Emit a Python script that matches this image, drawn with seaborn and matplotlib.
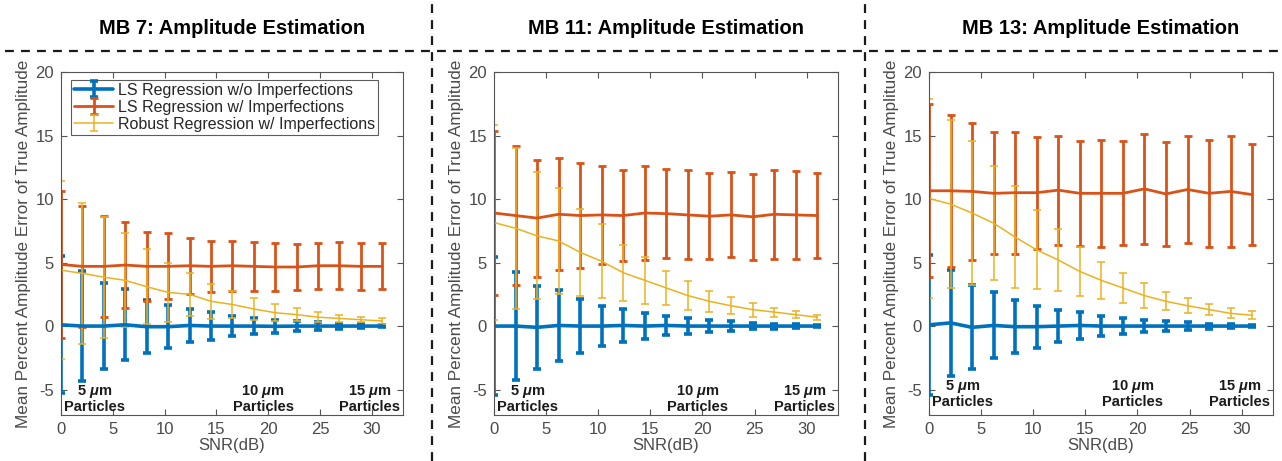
import numpy as np
import pandas as pd
import seaborn as sns
import matplotlib.pyplot as plt
from matplotlib.lines import Line2D

sns.set_theme(style="ticks")
plt.rcParams['font.family'] = ['Liberation Sans', 'DejaVu Sans']
plt.rcParams['mathtext.fontset'] = 'custom'
plt.rcParams['mathtext.it'] = 'Liberation Sans:italic:bold'
plt.rcParams['axes.unicode_minus'] = False

# SNR values (dB)
snr = [0, 2.07, 4.13, 6.2, 8.27, 10.33, 12.4, 14.47, 16.53, 18.6, 20.67, 22.73, 24.8, 26.87, 28.93, 31]

titles = ["MB 7: Amplitude Estimation", "MB 11: Amplitude Estimation", "MB 13: Amplitude Estimation"]
series_labels = ["LS Regression w/o Imperfections", "LS Regression w/ Imperfections",
                 "Robust Regression w/ Imperfections"]

# MB 7
mb7_clean_mean = [0.1, 0, 0, 0.1, -0.05, -0.05, 0.05, 0, 0, 0, -0.02, 0, 0, 0, 0, 0]
mb7_clean_err = [5.4, 4.3, 3.4, 2.8, 2.1, 1.7, 1.3, 1.1, 0.8, 0.65, 0.5, 0.4, 0.3, 0.2, 0.15, 0.1]
mb7_ls_mean = [4.85, 4.7, 4.7, 4.8, 4.7, 4.7, 4.75, 4.7, 4.75, 4.7, 4.65, 4.65, 4.75, 4.75, 4.7, 4.7]
mb7_ls_err = [5.75, 4.75, 4.0, 3.4, 2.7, 2.6, 2.2, 2.0, 1.95, 1.9, 1.85, 1.8, 1.8, 1.85, 1.85, 1.8]
mb7_rob_mean = [4.4, 4.15, 3.85, 3.6, 3.1, 2.65, 2.5, 1.95, 1.7, 1.35, 1.05, 0.9, 0.7, 0.6, 0.5, 0.4]
mb7_rob_err = [7.0, 5.55, 4.75, 3.7, 2.95, 2.35, 1.7, 1.4, 1.1, 0.85, 0.65, 0.5, 0.4, 0.3, 0.2, 0.2]

# MB 11
mb11_clean_mean = [0, 0, -0.1, 0.05, 0, 0, 0.05, 0, 0.05, 0, 0, 0, 0, 0, 0, 0]
mb11_clean_err = [5.45, 4.25, 3.25, 2.8, 2.1, 1.6, 1.3, 1.0, 0.75, 0.65, 0.5, 0.4, 0.25, 0.2, 0.15, 0.1]
mb11_ls_mean = [8.9, 8.7, 8.5, 8.8, 8.7, 8.75, 8.7, 8.9, 8.85, 8.75, 8.65, 8.75, 8.6, 8.8, 8.75, 8.7]
mb11_ls_err = [6.45, 5.5, 4.6, 4.4, 4.1, 3.85, 3.6, 3.7, 3.5, 3.5, 3.4, 3.35, 3.4, 3.5, 3.45, 3.35]
mb11_rob_mean = [8.15, 7.7, 7.1, 6.7, 5.8, 5.1, 4.2, 3.6, 3.0, 2.4, 1.95, 1.6, 1.3, 1.1, 0.9, 0.7]
mb11_rob_err = [7.65, 6.35, 5.0, 4.2, 3.45, 2.9, 2.2, 1.85, 1.35, 1.15, 0.85, 0.65, 0.55, 0.35, 0.3, 0.2]

# MB 13
mb13_clean_mean = [0.1, 0.25, -0.1, 0.05, -0.05, -0.05, 0, 0.05, 0, 0, 0, 0, 0, 0, 0, 0]
mb13_clean_err = [5.5, 4.2, 3.3, 2.6, 2.1, 1.65, 1.25, 1.05, 0.8, 0.6, 0.5, 0.4, 0.3, 0.2, 0.15, 0.1]
mb13_ls_mean = [10.65, 10.65, 10.6, 10.45, 10.5, 10.5, 10.7, 10.45, 10.45, 10.45, 10.8, 10.4, 10.75, 10.45, 10.6, 10.35]
mb13_ls_err = [6.8, 6.0, 5.4, 4.8, 4.8, 4.4, 4.3, 4.15, 4.2, 4.1, 4.35, 4.1, 4.2, 4.2, 4.35, 4.0]
mb13_rob_mean = [10.05, 9.6, 8.9, 8.1, 7.0, 6.0, 5.2, 4.3, 3.6, 3.0, 2.4, 1.95, 1.6, 1.3, 1.0, 0.85]
mb13_rob_err = [7.85, 6.6, 5.7, 4.5, 4.0, 3.1, 2.45, 1.95, 1.45, 1.2, 1.0, 0.7, 0.6, 0.45, 0.4, 0.3]

# particle size annotations (x position in SNR units)
particle_labels = ["5 $\\mu$m\nParticles", "10 $\\mu$m\nParticles", "15 $\\mu$m\nParticles"]
particle_x = [3.2, 19.5, 29.8]

panels = [
    (mb7_clean_mean, mb7_clean_err, mb7_ls_mean, mb7_ls_err, mb7_rob_mean, mb7_rob_err),
    (mb11_clean_mean, mb11_clean_err, mb11_ls_mean, mb11_ls_err, mb11_rob_mean, mb11_rob_err),
    (mb13_clean_mean, mb13_clean_err, mb13_ls_mean, mb13_ls_err, mb13_rob_mean, mb13_rob_err),
]

colors = ["#0072BD", "#D95319", "#EDB120"]
lws = [2.6, 2.0, 1.1]
caps = [3, 3, 3]
text_gray = "#4a4a4a"

W, H = 1282, 461
fig = plt.figure(figsize=(W / 100, H / 100), dpi=100)
fig.patch.set_facecolor("white")

ax_px = [(61, 403), (494, 838), (929, 1273)]
top_px, bot_px = 72, 415
particle_y = [-6.95, -6.95, -6.55]

for i, (x0, x1) in enumerate(ax_px):
    ax = fig.add_axes([x0 / W, 1 - bot_px / H, (x1 - x0) / W, (bot_px - top_px) / H])
    d = panels[i]
    df = pd.DataFrame({"snr": snr})
    for k in range(3):
        m, e = d[2 * k], d[2 * k + 1]
        ax.errorbar(df["snr"], m, yerr=e, color=colors[k], lw=lws[k], elinewidth=lws[k],
                    capsize=caps[k], capthick=lws[k], label=series_labels[k])
    ax.set_xlim(0, 33)
    ax.set_ylim(-7, 20)
    ax.set_xticks([0, 5, 10, 15, 20, 25, 30])
    ax.set_yticks([-5, 0, 5, 10, 15, 20])
    ax.tick_params(direction="in", length=4, width=0.8, top=True, right=True,
                   labelsize=12, colors="#555555", labelcolor=text_gray, pad=5)
    for s in ax.spines.values():
        s.set_color("#555555")
        s.set_linewidth(0.8)
    ax.set_xlabel("SNR(dB)", fontsize=12, color=text_gray, labelpad=1)
    ax.set_ylabel("Mean Percent Amplitude Error of True Amplitude", fontsize=12.3,
                  color=text_gray, labelpad=3)
    for lab, px in zip(particle_labels, particle_x):
        ax.text(px, particle_y[i], lab, ha="center", va="bottom", fontsize=10.5,
                fontweight="bold", color="#1a1a1a", linespacing=1.05)
    fig.text((x0 + x1) / 2 / W, 1 - 28 / H, titles[i], ha="center", va="center",
             fontsize=14.5, fontweight="bold", color="black")
    if i == 0:
        leg = ax.legend(loc="upper left", bbox_to_anchor=(0.03, 0.978), fontsize=11.5,
                        frameon=True, fancybox=False, edgecolor="#333333",
                        borderpad=0.2, labelspacing=0.12, handlelength=2.4,
                        handletextpad=0.3, borderaxespad=0)
        leg.get_frame().set_linewidth(0.8)
        for t in leg.get_texts():
            t.set_color("#262626")

# dashed separators
dash = (0, (4.0, 3.2))
fig.add_artist(Line2D([0.004, 1], [1 - 51 / H, 1 - 51 / H], transform=fig.transFigure,
                      color="#1a1a1a", lw=1.6, linestyle=dash))
for xp in [432, 865]:
    fig.add_artist(Line2D([xp / W, xp / W], [0, 1], transform=fig.transFigure,
                          color="#1a1a1a", lw=1.6, linestyle=dash))

fig.savefig("out.png", dpi=100, facecolor="white")
